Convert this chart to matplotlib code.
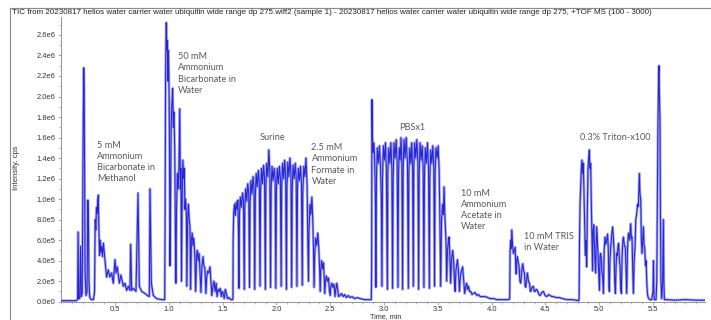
import numpy as np
import matplotlib
matplotlib.use("Agg")
import matplotlib.pyplot as plt
from matplotlib.lines import Line2D
from matplotlib.ticker import MultipleLocator

# ---------------- data (time in min, intensity in 1e6 cps) ----------------
time_min = [
    0.000, 0.140, 0.152, 0.157, 0.162, 0.172, 0.180, 0.186, 0.195, 0.200, 0.205, 0.210, 0.214, 0.218, 0.222,
    0.230, 0.240, 0.248, 0.254, 0.258, 0.265, 0.280, 0.300, 0.310,
    0.316, 0.322, 0.328, 0.334, 0.340, 0.345, 0.350, 0.356, 0.362, 0.368, 0.376, 0.384, 0.392, 0.407, 0.422,
    0.438, 0.453, 0.469, 0.484, 0.500, 0.509, 0.521, 0.540, 0.555, 0.577, 0.593, 0.608, 0.624, 0.639, 0.646,
    0.655, 0.670, 0.695, 0.714, 0.726, 0.748, 0.779, 0.801, 0.819, 0.825, 0.838, 0.856, 0.887, 0.934, 0.958,
    # 50 mM bicarbonate in water
    0.962, 0.966, 0.970, 0.976, 0.981, 0.986, 0.991, 0.996, 1.001, 1.006, 1.011, 1.016, 1.022, 1.030, 1.036,
    1.042, 1.048, 1.055, 1.061, 1.066, 1.072, 1.080, 1.088, 1.095, 1.102, 1.107, 1.113, 1.118, 1.124, 1.131,
    1.138, 1.144, 1.150, 1.156, 1.163, 1.168, 1.175, 1.182, 1.190, 1.197, 1.203, 1.210, 1.217, 1.225, 1.232,
    1.240, 1.250, 1.258, 1.265, 1.273, 1.282, 1.290, 1.299, 1.308, 1.318, 1.326, 1.335, 1.345, 1.353, 1.362,
    1.372, 1.383, 1.392, 1.400, 1.410, 1.420, 1.430, 1.440, 1.448, 1.458, 1.468, 1.478, 1.488, 1.497, 1.505,
    1.515, 1.525, 1.535, 1.545, 1.560, 1.575, 1.593,
    # Surine
    1.596, 1.598, 1.603, 1.610, 1.618, 1.626, 1.634, 1.642, 1.647,
    1.652, 1.657, 1.665, 1.675, 1.685, 1.694,
    1.701, 1.706, 1.714, 1.724, 1.734, 1.743,
    1.750, 1.755, 1.763, 1.773, 1.783, 1.792,
    1.799, 1.804, 1.812, 1.822, 1.832, 1.841,
    1.848, 1.853, 1.861, 1.871, 1.881, 1.890,
    1.897, 1.902, 1.910, 1.920, 1.930, 1.939,
    1.946, 1.951, 1.959, 1.969, 1.979, 1.988,
    1.995, 2.000, 2.008, 2.018, 2.028, 2.037,
    2.044, 2.049, 2.057, 2.067, 2.077, 2.086,
    2.093, 2.098, 2.106, 2.116, 2.126, 2.135,
    2.142, 2.147, 2.155, 2.165, 2.175, 2.184,
    2.191, 2.196, 2.204, 2.214, 2.224, 2.233,
    2.240,
    # 2.5 mM formate
    2.245, 2.255, 2.265, 2.275, 2.285, 2.293, 2.298, 2.303, 2.312, 2.320, 2.330, 2.338, 2.345, 2.350, 2.356,
    2.365, 2.375, 2.385, 2.395, 2.402, 2.407, 2.412, 2.420, 2.430, 2.438, 2.444, 2.450, 2.456, 2.465, 2.475,
    2.485, 2.493, 2.500, 2.506, 2.515, 2.525, 2.535, 2.545, 2.552, 2.562, 2.570, 2.578, 2.590, 2.605, 2.620,
    2.635, 2.650, 2.668, 2.685, 2.705, 2.725, 2.750, 2.780, 2.820, 2.860, 2.882,
    # PBS
    2.885, 2.888, 2.892, 2.898, 2.906, 2.914, 2.920,
    2.925, 2.930, 2.938, 2.948, 2.958, 2.968, 2.975,
    2.981, 2.986, 2.994, 3.004, 3.014, 3.022,
    3.031, 3.036, 3.044, 3.054, 3.064, 3.073,
    3.080, 3.085, 3.093, 3.103, 3.113, 3.122,
    3.130, 3.135, 3.142, 3.150, 3.158, 3.166,
    3.173, 3.178, 3.186, 3.196, 3.206, 3.218,
    3.226, 3.231, 3.239, 3.249, 3.258, 3.266,
    3.272, 3.277, 3.285, 3.295, 3.305, 3.315,
    3.322, 3.327, 3.335, 3.345, 3.355, 3.364,
    3.371, 3.376, 3.384, 3.394, 3.404, 3.414,
    3.421, 3.426, 3.434, 3.444, 3.454, 3.463,
    3.470, 3.475, 3.483, 3.493, 3.503, 3.512, 3.518,
    3.527,
    # 10 mM acetate
    3.535, 3.545, 3.552, 3.558, 3.564, 3.570, 3.576, 3.583, 3.590, 3.598, 3.605, 3.612, 3.620, 3.627, 3.633,
    3.639, 3.648, 3.655, 3.661, 3.668, 3.676, 3.683, 3.692, 3.701, 3.710, 3.720, 3.731, 3.740, 3.750, 3.760,
    3.769, 3.777, 3.785, 3.795, 3.806, 3.818, 3.831, 3.845, 3.862, 3.878, 3.893, 3.915, 3.940, 3.965, 3.986,
    4.020, 4.048, 4.100, 4.157,
    # 10 mM TRIS
    4.168, 4.172, 4.178, 4.183, 4.188, 4.195, 4.203, 4.210, 4.219, 4.224, 4.228, 4.234, 4.240, 4.248, 4.256,
    4.263, 4.271, 4.280, 4.290, 4.298, 4.305, 4.312, 4.318, 4.325, 4.333, 4.342, 4.352, 4.360, 4.364, 4.375,
    4.389, 4.396, 4.404, 4.415, 4.426, 4.440, 4.451, 4.466, 4.482, 4.497, 4.513, 4.530, 4.544, 4.560, 4.575,
    4.600, 4.630, 4.660, 4.700, 4.750, 4.810,
    # Triton
    4.813, 4.817, 4.822, 4.828, 4.834, 4.840, 4.846, 4.852, 4.858, 4.864, 4.871, 4.878, 4.884, 4.890, 4.896,
    4.902, 4.908, 4.914, 4.921, 4.926, 4.930, 4.935, 4.939, 4.943, 4.950, 4.955, 4.961, 4.967, 4.972, 4.977,
    4.983, 4.989, 4.995, 5.002, 5.008, 5.014, 5.020, 5.026, 5.032, 5.039, 5.046, 5.054, 5.062, 5.070, 5.078,
    5.085, 5.090, 5.094, 5.100, 5.107, 5.116, 5.125, 5.132, 5.138, 5.144, 5.150, 5.157, 5.163, 5.169, 5.175,
    5.181, 5.188, 5.194, 5.200, 5.206, 5.213, 5.220, 5.225, 5.234, 5.243, 5.250, 5.256, 5.263, 5.268, 5.274,
    5.283, 5.293, 5.299, 5.305, 5.312, 5.318, 5.325, 5.333, 5.340, 5.349, 5.356, 5.364, 5.369, 5.373, 5.379,
    5.386, 5.392, 5.398, 5.404, 5.411, 5.417, 5.423, 5.430, 5.436, 5.442, 5.448, 5.455, 5.470, 5.488, 5.500,
    5.504, 5.508, 5.512, 5.528, 5.535, 5.540, 5.546, 5.552, 5.556, 5.560, 5.565, 5.569, 5.574, 5.581, 5.590,
    5.596, 5.601, 5.606, 5.627, 5.700, 5.800, 5.900, 6.000,
]

intensity_e6 = [
    0.010, 0.010, 0.020, 0.680, 0.030, 0.030, 0.540, 0.050, 0.080, 0.900, 1.800, 2.280, 2.050, 1.200, 0.300,
    0.060, 0.100, 0.990, 0.700, 0.200, 0.040, 0.020, 0.020, 0.100,
    0.800, 0.700, 0.920, 0.860, 1.000, 1.040, 0.720, 0.450, 0.600, 0.480, 0.540, 0.440, 0.570, 0.410, 0.240,
    0.310, 0.240, 0.280, 0.180, 0.410, 0.280, 0.340, 0.180, 0.260, 0.150, 0.180, 0.110, 0.150, 0.110, 0.560,
    0.110, 0.130, 0.100, 1.060, 0.150, 0.100, 0.080, 0.060, 0.050, 1.100, 0.180, 0.060, 0.030, 0.020, 0.020,
    0.020, 0.900, 2.200, 2.720, 2.450, 2.550, 2.150, 2.450, 2.200, 1.600, 0.350, 0.900, 1.700, 1.950, 2.080,
    1.700, 1.850, 1.500, 0.700, 0.180, 0.900, 1.250, 1.100, 1.350, 1.880, 1.100, 1.300, 0.200, 1.000, 1.380,
    1.200, 1.300, 0.900, 1.000, 0.850, 0.150, 0.800, 0.950, 0.800, 0.730, 0.120, 0.600, 0.670, 0.550, 0.620,
    0.500, 0.100, 0.450, 0.500, 0.400, 0.470, 0.300, 0.090, 0.350, 0.440, 0.350, 0.330, 0.080, 0.250, 0.300,
    0.280, 0.340, 0.200, 0.060, 0.150, 0.200, 0.100, 0.180, 0.050, 0.120, 0.100, 0.130, 0.050, 0.100, 0.080,
    0.030, 0.120, 0.080, 0.030, 0.040, 0.020, 0.020,
    0.030, 0.600, 0.860, 0.950, 0.840, 0.970, 0.900, 0.990, 0.700,
    0.130, 0.850, 1.020, 0.920, 1.060, 0.980,
    0.120, 0.900, 1.100, 0.980, 1.150, 1.050,
    0.140, 0.950, 1.180, 1.050, 1.220, 1.100,
    0.120, 1.000, 1.250, 1.120, 1.280, 1.150,
    0.150, 1.050, 1.300, 1.150, 1.330, 1.200,
    0.120, 1.100, 1.350, 1.220, 1.480, 1.250,
    0.140, 1.100, 1.320, 1.180, 1.300, 1.200,
    0.130, 1.080, 1.300, 1.150, 1.320, 1.200,
    0.150, 1.100, 1.350, 1.200, 1.380, 1.220,
    0.120, 1.120, 1.360, 1.220, 1.400, 1.250,
    0.140, 1.100, 1.330, 1.200, 1.350, 1.200,
    0.150, 1.100, 1.300, 1.180, 1.320, 1.150,
    0.160,
    1.050, 1.320, 1.220, 1.400, 1.150, 0.500, 0.200, 0.700, 0.950, 0.850, 1.020, 0.800, 0.500, 0.140, 0.450,
    0.620, 0.550, 0.670, 0.500, 0.300, 0.100, 0.300, 0.400, 0.320, 0.380, 0.250, 0.080, 0.200, 0.250, 0.200,
    0.230, 0.100, 0.060, 0.150, 0.180, 0.140, 0.170, 0.050, 0.120, 0.180, 0.120, 0.050, 0.060, 0.080, 0.050,
    0.070, 0.040, 0.060, 0.040, 0.050, 0.030, 0.040, 0.030, 0.020, 0.020, 0.020,
    0.300, 1.970, 1.600, 1.450, 1.550, 1.350, 1.000,
    0.140, 1.200, 1.500, 1.350, 1.520, 1.300, 1.000,
    0.150, 1.200, 1.520, 1.380, 1.550, 1.300,
    0.120, 1.250, 1.500, 1.350, 1.550, 1.300,
    0.130, 1.200, 1.550, 1.400, 1.580, 1.350,
    0.140, 1.250, 1.500, 1.380, 1.600, 1.350,
    0.120, 1.300, 1.580, 1.400, 1.600, 1.350,
    0.130, 1.250, 1.500, 1.350, 1.550, 1.300,
    0.150, 1.300, 1.550, 1.400, 1.580, 1.350,
    0.120, 1.250, 1.550, 1.380, 1.520, 1.300,
    0.140, 1.200, 1.500, 1.350, 1.550, 1.300,
    0.130, 1.200, 1.480, 1.350, 1.520, 1.300,
    0.150, 1.250, 1.500, 1.400, 1.520, 1.300, 0.900,
    0.150,
    0.800, 0.950, 0.850, 1.120, 0.900, 0.730, 0.600, 0.200, 0.500, 0.580, 0.630, 0.450, 0.180, 0.400, 0.450,
    0.500, 0.380, 0.200, 0.100, 0.300, 0.360, 0.410, 0.300, 0.100, 0.250, 0.300, 0.340, 0.220, 0.080, 0.150,
    0.180, 0.120, 0.150, 0.100, 0.100, 0.070, 0.080, 0.090, 0.060, 0.070, 0.050, 0.050, 0.050, 0.040, 0.030,
    0.030, 0.020, 0.020, 0.020,
    0.030, 0.500, 0.600, 0.520, 0.700, 0.550, 0.470, 0.500, 0.530, 0.350, 0.270, 0.400, 0.440, 0.380, 0.340,
    0.200, 0.180, 0.300, 0.370, 0.300, 0.280, 0.150, 0.140, 0.220, 0.280, 0.200, 0.180, 0.100, 0.100, 0.140,
    0.150, 0.100, 0.100, 0.120, 0.110, 0.070, 0.060, 0.090, 0.100, 0.060, 0.050, 0.070, 0.060, 0.050, 0.050,
    0.040, 0.040, 0.030, 0.020, 0.020, 0.010,
    0.020, 0.600, 0.950, 1.120, 1.300, 1.380, 1.250, 1.350, 1.100, 0.800, 0.450, 0.600, 0.340, 0.900, 1.300,
    1.400, 1.480, 1.300, 1.350, 1.000, 0.800, 0.600, 0.300, 0.700, 0.750, 0.600, 0.400, 0.280, 0.550, 0.730,
    0.600, 0.470, 0.300, 0.110, 0.450, 0.470, 0.400, 0.280, 0.250, 0.080, 0.500, 0.630, 0.560, 0.600, 0.660,
    0.500, 0.150, 0.100, 0.400, 0.530, 0.650, 0.730, 0.620, 0.500, 0.200, 0.080, 0.350, 0.470, 0.450, 0.550,
    0.570, 0.400, 0.340, 0.120, 0.080, 0.450, 0.600, 0.630, 0.550, 0.530, 0.300, 0.080, 0.500, 0.620, 0.670,
    0.600, 0.760, 0.620, 0.630, 0.300, 0.080, 0.400, 0.530, 0.800, 0.860, 0.950, 0.930, 1.100, 1.250, 1.050,
    1.000, 0.600, 0.470, 0.600, 0.730, 0.550, 0.530, 0.350, 0.400, 0.200, 0.080, 0.040, 0.020, 0.020, 0.100,
    0.400, 0.100, 0.020, 0.020, 0.200, 0.930, 1.700, 2.200, 2.300, 2.000, 1.770, 0.900, 0.200, 0.030, 0.200,
    0.800, 0.200, 0.020, 0.020, 0.015, 0.020, 0.015, 0.015,
]

x_ticks = [0.5, 1.0, 1.5, 2.0, 2.5, 3.0, 3.5, 4.0, 4.5, 5.0, 5.5]
x_tick_labels = ["0.5", "1.0", "1.5", "2.0", "2.5", "3.0", "3.5", "4.0", "4.5", "5.0", "5.5"]
y_ticks_e6 = [0.0, 0.2, 0.4, 0.6, 0.8, 1.0, 1.2, 1.4, 1.6, 1.8, 2.0, 2.2, 2.4, 2.6]
y_tick_labels = ["0.0e0", "2.0e5", "4.0e5", "6.0e5", "8.0e5", "1.0e6", "1.2e6", "1.4e6",
                 "1.6e6", "1.8e6", "2.0e6", "2.2e6", "2.4e6", "2.6e6"]

title_text = ("TIC from 20230817 helios water carrier water ubiquitin wide range dp 275.wiff2 (sample 1) - "
              "20230817 helios water carrier water ubiquitin wide range dp 275, +TOF MS (100 - 3000)")

annotations = [
    (["5 mM", "Ammonium", "Bicarbonate in", "Methanol"], 0.333, 1.527),
    (["50 mM", "Ammonium", "Bicarbonate in", "Water"], 1.085, 2.388),
    (["Surine"], 1.847, 1.596),
    (["2.5 mM", "Ammonium", "Formate in", "Water"], 2.326, 1.501),
    (["PBSx1"], 3.139, 1.693),
    (["10 mM", "Ammonium", "Acetate in", "Water"], 3.715, 1.059),
    (["10 mM TRIS", "in Water"], 4.301, 0.640),
    (["0.3% Triton-x100"], 4.821, 1.596),
]

# ---------------- figure ----------------
W, H = 711, 320
fig = plt.figure(figsize=(W / 100, H / 100), dpi=100)
fig.patch.set_facecolor("white")

ax_left, ax_right, ax_bottom, ax_top = 61.2, 705.5, 301.7, 17.0
ax = fig.add_axes([ax_left / W, 1 - ax_bottom / H, (ax_right - ax_left) / W, (ax_bottom - ax_top) / H])

t = np.array(time_min)
y = np.array(intensity_e6) * 1e6
ax.plot(t, y, color="#a4a4f2", lw=1.9, solid_joinstyle="round", zorder=2)
ax.plot(t, y, color="#2626d6", lw=0.75, solid_joinstyle="round", zorder=3)

ax.set_xlim(0, (ax_right - ax_left) / 107.6)
ax.set_ylim(0, (ax_bottom - ax_top) / 102.6 * 1e6)

for s in ["top", "right"]:
    ax.spines[s].set_visible(False)
for s in ["left", "bottom"]:
    ax.spines[s].set_color("#9a9a9a")
    ax.spines[s].set_linewidth(0.8)

tick_font = dict(family="Liberation Sans", size=5.4, color="#333333")
ax.set_xticks(x_ticks)
ax.set_xticklabels(x_tick_labels, **tick_font)
ax.set_yticks([v * 1e6 for v in y_ticks_e6])
ax.set_yticklabels(y_tick_labels, **tick_font)
ax.xaxis.set_minor_locator(MultipleLocator(0.1))
ax.yaxis.set_minor_locator(MultipleLocator(0.1e6))
ax.tick_params(which="major", length=2.0, width=0.6, color="#9a9a9a", pad=2)
ax.tick_params(axis="x", which="major", pad=1.0)
ax.tick_params(which="minor", length=1.3, width=0.5, color="#9a9a9a")

# axis labels
fig.text(386 / W, 1 - 316.6 / H, "Time, min", ha="center", va="center",
         family="Liberation Sans", size=5.2, color="#333333")
fig.text(17 / W, 1 - 168 / H, "Intensity, cps", ha="center", va="center", rotation=90,
         family="Liberation Sans", size=5.6, color="#333333")

# title and frame
fig.text(12 / W, 1 - 13 / H, title_text, ha="left", va="center",
         family="Liberation Sans", size=5.72, color="#222222")
fig.add_artist(Line2D([10 / W, 1.0], [1 - 8 / H, 1 - 8 / H], color="#8a8a8a", lw=0.8))
fig.add_artist(Line2D([10 / W, 10 / W], [1 - 8 / H, 0.0], color="#8a8a8a", lw=0.8))

# annotations
line_step = 11.3 / 102.6 * 1e6
for lines, tx, ty in annotations:
    for i, ln in enumerate(lines):
        ax.text(tx, ty * 1e6 - i * line_step, ln, ha="left", va="center",
                family="Lato", size=6.6, color="#595959", zorder=5)

fig.savefig("out.png", dpi=100)
